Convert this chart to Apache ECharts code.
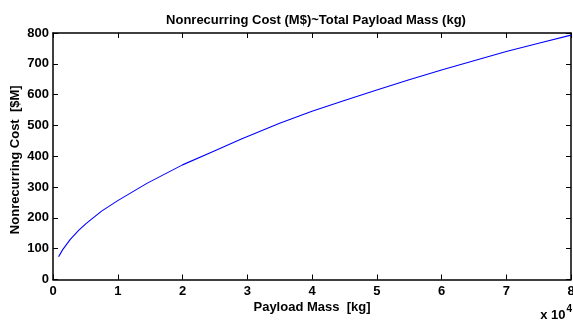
<!DOCTYPE html>
<html>
<head>
<meta charset="utf-8">
<script src="https://cdn.jsdelivr.net/npm/echarts@6/dist/echarts.min.js"></script>
<style>
  html, body { margin: 0; padding: 0; background: #fff; }
  #chart { width: 573px; height: 320px; }
</style>
</head>
<body>
<div id="chart"></div>
<script>
// Total payload mass (kg) and the matching nonrecurring cost ($M)
const payloadMass = [860, 1500, 2670, 4000, 5140, 7500, 10000, 14500, 20000, 25000, 29000,
  35000, 40000, 45000, 50000, 55000, 60000, 65000, 70000, 75000, 80000];
const nonrecurringCost = [74, 97, 130, 160, 182, 222, 256, 312, 372, 418, 455,
  507, 546, 581, 615, 648, 680, 710, 740, 767, 793];

const xTicks = [0, 1, 2, 3, 4, 5, 6, 7, 8];        // in units of 10^4 kg
const yTicks = [0, 100, 200, 300, 400, 500, 600, 700, 800];
const xScale = 10000;

const FONT = '"Liberation Sans", Arial, Helvetica, sans-serif';
const ink = '#000';

const points = payloadMass.map((m, i) => [m, nonrecurringCost[i]]);

const chart = echarts.init(document.getElementById('chart'), null, { renderer: 'canvas' });

const baseX = {
  type: 'value',
  min: xTicks[0] * xScale,
  max: xTicks[xTicks.length - 1] * xScale,
  interval: xScale,
  splitLine: { show: false },
  axisLine: { show: true, onZero: false, lineStyle: { color: ink, width: 1.5 } },
  axisTick: { show: true, inside: true, length: 5, lineStyle: { color: ink, width: 1 } }
};
const baseY = {
  type: 'value',
  min: yTicks[0],
  max: yTicks[yTicks.length - 1],
  interval: 100,
  splitLine: { show: false },
  axisLine: { show: true, onZero: false, lineStyle: { color: ink, width: 1.5 } },
  axisTick: { show: true, inside: true, length: 5, lineStyle: { color: ink, width: 1 } }
};

chart.setOption({
  animation: false,
  backgroundColor: '#fff',
  title: {
    text: 'Nonrecurring Cost (M$)~Total Payload Mass (kg)',
    left: 311, top: 9, textAlign: 'center',
    textStyle: { fontFamily: FONT, fontSize: 13, fontWeight: 'bold', color: ink }
  },
  grid: { left: 53, right: 2, top: 33, bottom: 40.5, outerBoundsMode: 'none' },
  xAxis: [
    Object.assign({}, baseX, {
      position: 'bottom',
      name: 'Payload Mass  [kg]',
      nameLocation: 'middle',
      nameGap: 21,
      nameMoveOverlap: false,
      nameTextStyle: { fontFamily: FONT, fontSize: 13, fontWeight: 'bold', color: ink },
      axisLabel: {
        show: true, margin: 5,
        fontFamily: FONT, fontSize: 13, fontWeight: 'bold', color: ink,
        formatter: v => String(v / xScale)
      }
    }),
    Object.assign({}, baseX, { position: 'top', axisLabel: { show: false } })
  ],
  yAxis: [
    Object.assign({}, baseY, {
      position: 'left',
      name: 'Nonrecurring Cost  [$M]',
      nameLocation: 'middle',
      nameGap: 31,
      nameMoveOverlap: false,
      nameTextStyle: { fontFamily: FONT, fontSize: 13, fontWeight: 'bold', color: ink, padding: [0, 7, 0, 0] },
      axisLabel: {
        show: true, margin: 4,
        fontFamily: FONT, fontSize: 13, fontWeight: 'bold', color: ink
      }
    }),
    Object.assign({}, baseY, { position: 'right', axisLabel: { show: false } })
  ],
  graphic: [{
    type: 'text',
    right: 1, bottom: -2,
    style: {
      text: '{b|x 10}{s|4}',
      rich: {
        b: { fontFamily: FONT, fontSize: 13, fontWeight: 'bold', fill: ink, verticalAlign: 'bottom' },
        s: { fontFamily: FONT, fontSize: 10, fontWeight: 'bold', fill: ink, verticalAlign: 'top', padding: [0, 0, 8, 1] }
      }
    }
  }],
  series: [{
    type: 'line',
    data: points,
    xAxisIndex: 0,
    yAxisIndex: 0,
    showSymbol: false,
    smooth: false,
    lineStyle: { color: '#0000ff', width: 1.1 },
    itemStyle: { color: '#0000ff' }
  }]
});
</script>
</body>
</html>
